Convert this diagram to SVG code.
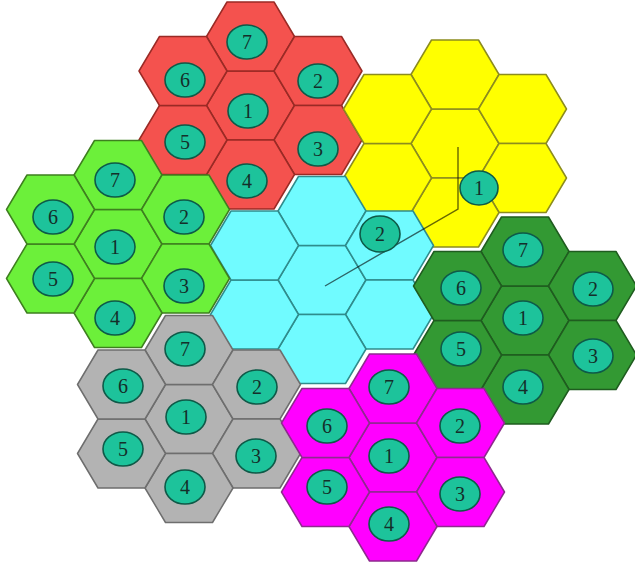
<svg xmlns="http://www.w3.org/2000/svg" xmlns:xlink="http://www.w3.org/1999/xlink" width="635" height="568" viewBox="0 0 635 568">
<style>
.red use{fill:#f4524e;stroke:#9a2a25}
.yel use{fill:#ffff00;stroke:#8c8c1e}
.cya use{fill:#70fbff;stroke:#2f8c8c}
.lim use{fill:#6cf03a;stroke:#3e7f1f}
.dgr use{fill:#339933;stroke:#1f5c1f}
.gry use{fill:#b3b3b3;stroke:#6e6e6e}
.mag use{fill:#ff00ff;stroke:#8e2a8e}
use{stroke-width:1.5;stroke-linejoin:round}
ellipse{fill:#1dc39b;stroke:#0e5a48;stroke-width:1.6}
text{font-family:"Liberation Serif","Times New Roman",serif;font-size:20px;fill:#142f2a;text-anchor:middle;dominant-baseline:central}
.conn{fill:none;stroke:#000;stroke-opacity:0.6;stroke-width:1.4}
</style>
<defs>
<polygon id="hex" points="-44,0 -23.5,-34.5 23.5,-34.5 44,0 23.5,34.5 -23.5,34.5"/>
</defs>
<rect width="635" height="568" fill="#fff"/>

<g id="cluster-red" class="red">
<g transform="translate(250.5,105.5)">
<use xlink:href="#hex" href="#hex" x="0" y="0"/>
<use xlink:href="#hex" href="#hex" x="0" y="-69"/>
<use xlink:href="#hex" href="#hex" x="67.5" y="-34.5"/>
<use xlink:href="#hex" href="#hex" x="67.5" y="34.5"/>
<use xlink:href="#hex" href="#hex" x="0" y="69"/>
<use xlink:href="#hex" href="#hex" x="-67.5" y="34.5"/>
<use xlink:href="#hex" href="#hex" x="-67.5" y="-34.5"/>
</g>
<g id="red-7"><ellipse cx="247" cy="42" rx="20" ry="17"/><text x="247" y="42">7</text></g>
<g id="red-6"><ellipse cx="185" cy="80" rx="20" ry="17"/><text x="185" y="80">6</text></g>
<g id="red-2"><ellipse cx="318" cy="81" rx="20" ry="17"/><text x="318" y="81">2</text></g>
<g id="red-1"><ellipse cx="248" cy="111" rx="20" ry="17"/><text x="248" y="111">1</text></g>
<g id="red-5"><ellipse cx="185" cy="142" rx="20" ry="17"/><text x="185" y="142">5</text></g>
<g id="red-3"><ellipse cx="318" cy="149" rx="20" ry="17"/><text x="318" y="149">3</text></g>
<g id="red-4"><ellipse cx="247" cy="181" rx="20" ry="17"/><text x="247" y="181">4</text></g>
</g>

<g id="cluster-yellow" class="yel">
<g transform="translate(455,143.5)">
<use xlink:href="#hex" href="#hex" x="0" y="0"/>
<use xlink:href="#hex" href="#hex" x="0" y="-69"/>
<use xlink:href="#hex" href="#hex" x="67.5" y="-34.5"/>
<use xlink:href="#hex" href="#hex" x="67.5" y="34.5"/>
<use xlink:href="#hex" href="#hex" x="0" y="69"/>
<use xlink:href="#hex" href="#hex" x="-67.5" y="34.5"/>
<use xlink:href="#hex" href="#hex" x="-67.5" y="-34.5"/>
</g>
</g>

<g id="cluster-cyan" class="cya">
<g transform="translate(322,280)">
<use xlink:href="#hex" href="#hex" x="0" y="0"/>
<use xlink:href="#hex" href="#hex" x="0" y="-69"/>
<use xlink:href="#hex" href="#hex" x="67.5" y="-34.5"/>
<use xlink:href="#hex" href="#hex" x="67.5" y="34.5"/>
<use xlink:href="#hex" href="#hex" x="0" y="69"/>
<use xlink:href="#hex" href="#hex" x="-67.5" y="34.5"/>
<use xlink:href="#hex" href="#hex" x="-67.5" y="-34.5"/>
</g>
</g>

<g id="cluster-lime" class="lim">
<g transform="translate(118,244)">
<use xlink:href="#hex" href="#hex" x="0" y="0"/>
<use xlink:href="#hex" href="#hex" x="0" y="-69"/>
<use xlink:href="#hex" href="#hex" x="67.5" y="-34.5"/>
<use xlink:href="#hex" href="#hex" x="67.5" y="34.5"/>
<use xlink:href="#hex" href="#hex" x="0" y="69"/>
<use xlink:href="#hex" href="#hex" x="-67.5" y="34.5"/>
<use xlink:href="#hex" href="#hex" x="-67.5" y="-34.5"/>
</g>
<g id="lime-7"><ellipse cx="115" cy="180" rx="20" ry="17"/><text x="115" y="180">7</text></g>
<g id="lime-6"><ellipse cx="53" cy="217" rx="20" ry="17"/><text x="53" y="217">6</text></g>
<g id="lime-2"><ellipse cx="184" cy="217" rx="20" ry="17"/><text x="184" y="217">2</text></g>
<g id="lime-1"><ellipse cx="115" cy="247" rx="20" ry="17"/><text x="115" y="247">1</text></g>
<g id="lime-5"><ellipse cx="53" cy="279" rx="20" ry="17"/><text x="53" y="279">5</text></g>
<g id="lime-3"><ellipse cx="184" cy="286" rx="20" ry="17"/><text x="184" y="286">3</text></g>
<g id="lime-4"><ellipse cx="115" cy="318" rx="20" ry="17"/><text x="115" y="318">4</text></g>
</g>

<g id="cluster-darkgreen" class="dgr">
<g transform="translate(525,320.5)">
<use xlink:href="#hex" href="#hex" x="0" y="0"/>
<use xlink:href="#hex" href="#hex" x="0" y="-69"/>
<use xlink:href="#hex" href="#hex" x="67.5" y="-34.5"/>
<use xlink:href="#hex" href="#hex" x="67.5" y="34.5"/>
<use xlink:href="#hex" href="#hex" x="0" y="69"/>
<use xlink:href="#hex" href="#hex" x="-67.5" y="34.5"/>
<use xlink:href="#hex" href="#hex" x="-67.5" y="-34.5"/>
</g>
<g id="dg-7"><ellipse cx="523" cy="250" rx="20" ry="17"/><text x="523" y="250">7</text></g>
<g id="dg-6"><ellipse cx="461" cy="288" rx="20" ry="17"/><text x="461" y="288">6</text></g>
<g id="dg-2"><ellipse cx="593" cy="289" rx="20" ry="17"/><text x="593" y="289">2</text></g>
<g id="dg-1"><ellipse cx="523" cy="318" rx="20" ry="17"/><text x="523" y="318">1</text></g>
<g id="dg-5"><ellipse cx="461" cy="349" rx="20" ry="17"/><text x="461" y="349">5</text></g>
<g id="dg-3"><ellipse cx="593" cy="356" rx="20" ry="17"/><text x="593" y="356">3</text></g>
<g id="dg-4"><ellipse cx="523" cy="387" rx="20" ry="17"/><text x="523" y="387">4</text></g>
</g>

<g id="cluster-gray" class="gry">
<g transform="translate(189,419)">
<use xlink:href="#hex" href="#hex" x="0" y="0"/>
<use xlink:href="#hex" href="#hex" x="0" y="-69"/>
<use xlink:href="#hex" href="#hex" x="67.5" y="-34.5"/>
<use xlink:href="#hex" href="#hex" x="67.5" y="34.5"/>
<use xlink:href="#hex" href="#hex" x="0" y="69"/>
<use xlink:href="#hex" href="#hex" x="-67.5" y="34.5"/>
<use xlink:href="#hex" href="#hex" x="-67.5" y="-34.5"/>
</g>
<g id="gray-7"><ellipse cx="185" cy="349" rx="20" ry="17"/><text x="185" y="349">7</text></g>
<g id="gray-6"><ellipse cx="123" cy="386" rx="20" ry="17"/><text x="123" y="386">6</text></g>
<g id="gray-2"><ellipse cx="257" cy="387" rx="20" ry="17"/><text x="257" y="387">2</text></g>
<g id="gray-1"><ellipse cx="186" cy="417" rx="20" ry="17"/><text x="186" y="417">1</text></g>
<g id="gray-5"><ellipse cx="123" cy="449" rx="20" ry="17"/><text x="123" y="449">5</text></g>
<g id="gray-3"><ellipse cx="256" cy="456" rx="20" ry="17"/><text x="256" y="456">3</text></g>
<g id="gray-4"><ellipse cx="185" cy="487" rx="20" ry="17"/><text x="185" y="487">4</text></g>
</g>

<g id="cluster-magenta" class="mag">
<g transform="translate(393,457.5)">
<use xlink:href="#hex" href="#hex" x="0" y="0"/>
<use xlink:href="#hex" href="#hex" x="0" y="-69"/>
<use xlink:href="#hex" href="#hex" x="67.5" y="-34.5"/>
<use xlink:href="#hex" href="#hex" x="67.5" y="34.5"/>
<use xlink:href="#hex" href="#hex" x="0" y="69"/>
<use xlink:href="#hex" href="#hex" x="-67.5" y="34.5"/>
<use xlink:href="#hex" href="#hex" x="-67.5" y="-34.5"/>
</g>
<g id="mag-7"><ellipse cx="389" cy="387" rx="20" ry="17"/><text x="389" y="387">7</text></g>
<g id="mag-6"><ellipse cx="327" cy="426" rx="20" ry="17"/><text x="327" y="426">6</text></g>
<g id="mag-2"><ellipse cx="460" cy="426" rx="20" ry="17"/><text x="460" y="426">2</text></g>
<g id="mag-1"><ellipse cx="389" cy="456" rx="20" ry="17"/><text x="389" y="456">1</text></g>
<g id="mag-5"><ellipse cx="327" cy="487" rx="20" ry="17"/><text x="327" y="487">5</text></g>
<g id="mag-3"><ellipse cx="460" cy="494" rx="20" ry="17"/><text x="460" y="494">3</text></g>
<g id="mag-4"><ellipse cx="389" cy="524" rx="20" ry="17"/><text x="389" y="524">4</text></g>
</g>

<g id="connectors">
<polyline class="conn" points="458,147 458,209 325,286"/>
</g>

<g id="yellow-1"><ellipse cx="479" cy="188" rx="19" ry="17"/><text x="479" y="188">1</text></g>
<g id="cyan-2"><ellipse cx="380" cy="234" rx="20" ry="18"/><text x="380" y="234">2</text></g>
</svg>
